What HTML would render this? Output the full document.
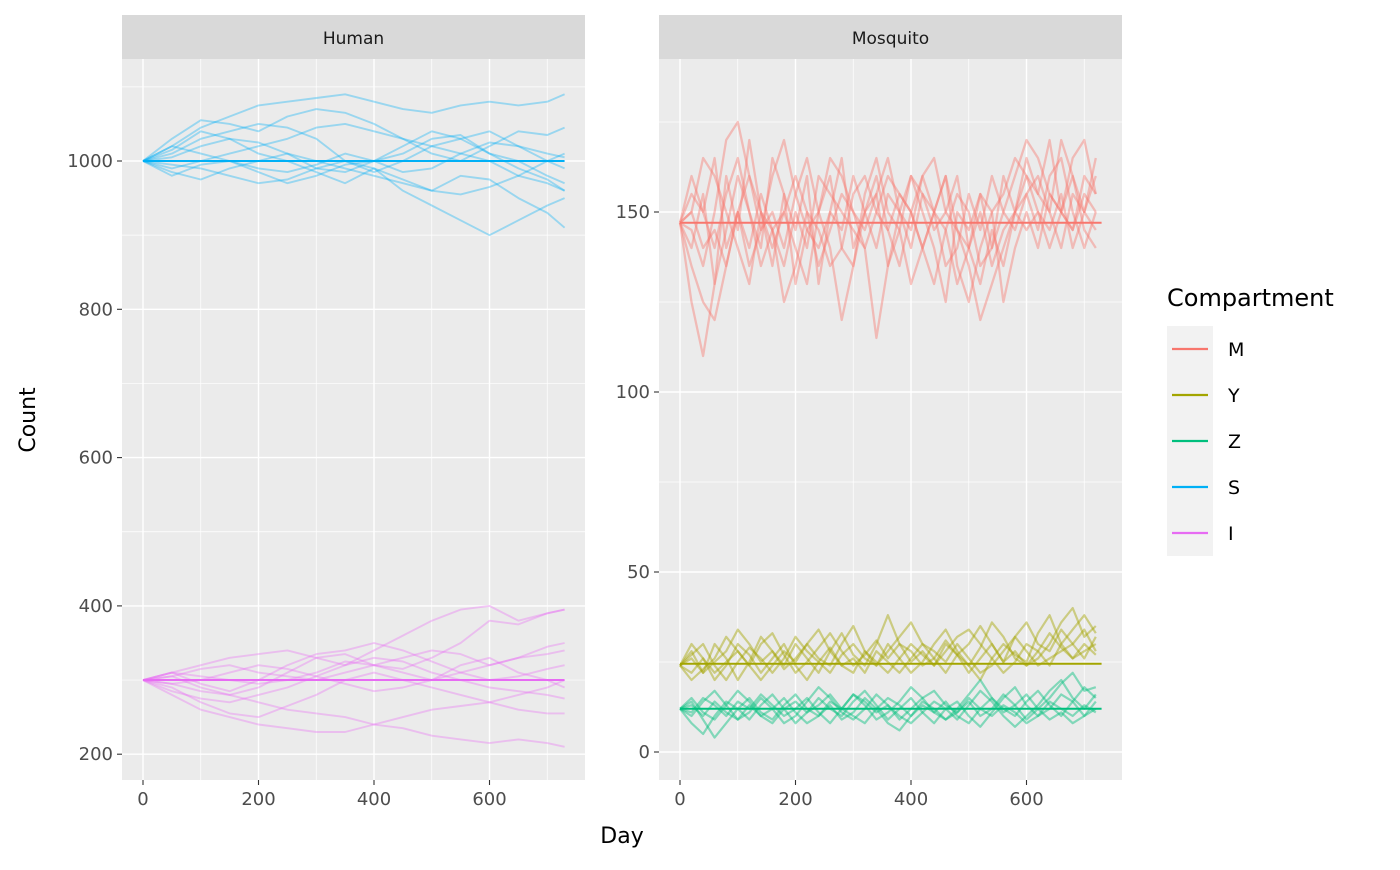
<!DOCTYPE html>
<html><head><meta charset="utf-8"><style>
body{margin:0;background:#fff;}
svg text{font-family:"DejaVu Sans","Liberation Sans",sans-serif;}
</style></head><body>
<svg id="chart" width="1400" height="865" xmlns="http://www.w3.org/2000/svg"></svg>
<script>
// ---- data ----
const humanDays=[0,50,100,150,200,250,300,350,400,450,500,550,600,650,700,730];
const sTraj=[
[1000,1020,1045,1060,1075,1080,1085,1090,1080,1070,1065,1075,1080,1075,1080,1090],
[1000,1030,1055,1050,1040,1060,1070,1065,1050,1030,1010,1000,1020,1040,1035,1045],
[1000,1015,1040,1030,1010,1000,985,970,990,975,960,955,965,980,1000,1010],
[1000,985,975,990,1000,1010,1000,990,980,970,960,980,975,950,930,910],
[1000,995,990,980,970,975,990,1000,990,960,940,920,900,920,940,950],
[1000,1010,1030,1040,1050,1045,1030,1000,985,1000,1020,1010,1000,980,970,960],
[1000,990,1000,1010,1020,1030,1045,1050,1040,1030,1020,1030,1040,1020,1000,990],
[1000,1020,1010,1000,990,985,995,1010,1000,985,990,1010,1025,1020,1010,1005],
[1000,1005,1020,1030,1025,1010,990,985,1000,1020,1040,1030,1010,990,975,960],
[1000,980,995,1000,985,970,980,995,1000,1010,1030,1035,1010,1000,980,970]];
const iTraj=[
[300,310,320,330,335,340,330,320,340,360,380,395,400,380,390,395],
[300,295,285,280,270,260,255,250,240,235,225,220,215,220,215,210],
[300,310,305,300,295,300,310,325,320,315,330,350,380,375,390,395],
[300,290,270,255,250,265,280,300,310,300,290,280,270,260,255,255],
[300,305,315,320,310,305,300,310,320,330,340,335,320,330,345,350],
[300,280,260,250,240,235,230,230,240,250,260,265,270,280,290,300],
[300,305,290,280,290,310,330,335,320,310,300,310,320,330,335,340],
[300,295,300,310,320,315,305,295,285,290,300,320,330,310,300,290],
[300,310,295,285,300,320,335,340,350,340,325,310,300,305,315,320],
[300,285,275,270,280,290,305,320,330,325,310,300,290,285,280,275]];
const humanMeans=[1000,300];
const mosqDays=[0,20,40,60,80,100,120,140,160,180,200,220,240,260,280,300,320,340,360,380,400,420,440,460,480,500,520,540,560,580,600,620,640,660,680,700,720];
const mTraj=[
[147,140,155,130,160,145,170,150,135,155,145,160,130,150,165,140,150,155,135,145,160,150,140,125,150,145,155,140,160,150,165,155,170,150,145,160,155],
[147,125,110,130,145,160,150,140,165,155,130,145,150,160,140,135,155,165,150,145,130,140,150,160,135,125,140,150,155,165,160,150,145,155,140,150,145],
[147,155,150,165,140,150,135,145,160,170,155,145,140,150,145,160,150,140,155,150,145,160,150,135,140,155,145,160,150,145,155,160,150,140,155,150,160],
[147,135,125,120,135,150,160,145,150,140,155,165,150,140,120,135,150,160,145,155,150,140,130,145,155,150,135,140,150,160,170,165,155,150,160,145,140],
[147,150,165,160,150,140,130,150,145,135,150,140,160,155,150,145,140,115,135,150,160,155,145,150,160,140,130,145,135,150,155,145,160,165,150,140,150],
[147,145,135,150,170,175,160,150,140,150,160,150,135,145,155,150,140,150,160,155,150,140,150,145,130,140,150,135,145,150,160,155,150,170,160,150,165],
[147,150,140,145,135,150,140,155,145,125,135,150,145,135,140,155,160,150,145,135,150,160,165,150,145,135,120,130,140,150,145,150,140,150,165,170,155],
[147,160,150,140,155,165,150,135,145,150,140,130,150,165,160,150,145,155,165,150,140,155,150,160,145,140,155,150,125,140,150,140,155,150,145,155,150]];
const yTraj=[
[24,28,22,30,26,20,25,32,28,24,30,26,22,28,33,27,24,30,38,30,25,28,24,30,27,22,26,30,25,32,36,30,28,34,30,26,32],
[24,22,26,20,24,30,27,22,26,30,24,20,25,29,24,22,28,24,30,26,22,25,30,34,28,24,20,26,30,27,25,33,38,30,26,28,30],
[24,27,30,24,20,25,29,26,22,26,32,28,25,22,27,30,26,24,28,32,36,30,26,22,27,30,35,30,25,28,24,26,30,36,40,32,35],
[24,20,23,26,32,28,24,20,24,28,25,30,34,28,24,26,22,28,25,22,26,30,28,25,30,26,22,24,28,32,28,24,26,28,30,34,28],
[24,26,22,25,28,34,30,25,28,23,26,30,26,24,30,35,28,25,22,26,30,27,24,28,32,34,30,26,22,25,30,28,24,30,34,38,33],
[24,30,26,22,25,28,24,30,33,27,22,25,29,33,28,24,27,31,26,30,28,24,26,31,27,24,29,36,32,26,24,28,33,29,26,30,27]];
const zTraj=[
[12,8,5,10,14,12,9,13,16,12,8,11,15,12,10,14,17,13,9,12,15,11,8,12,14,10,7,11,15,18,13,10,12,16,14,10,12],
[12,15,11,9,13,17,14,10,12,15,11,8,10,14,12,16,13,9,11,14,18,15,11,9,12,16,20,15,12,10,14,17,13,10,14,18,15],
[12,10,14,17,13,9,11,15,12,8,10,14,18,15,11,9,12,16,13,10,8,11,14,12,9,13,17,14,10,7,10,13,17,20,15,12,16],
[12,14,9,4,8,12,15,11,9,13,16,12,10,13,9,11,15,12,8,6,10,13,11,14,10,8,12,15,11,13,16,12,9,11,8,10,14],
[12,11,15,13,10,14,12,16,13,10,12,15,11,8,12,16,14,11,13,9,12,15,17,13,11,14,10,12,16,13,9,12,15,19,22,17,18],
[12,13,10,14,11,9,13,10,8,12,14,11,13,16,12,10,8,12,15,13,10,14,12,9,11,15,12,10,13,11,8,10,14,12,10,13,11]];
const mosqMeans=[147,24.5,12];
const xTicks=[0,200,400,600];
const humanYTicks=[200,400,600,800,1000];
const mosqYTicks=[0,50,100,150];
const legendLabels=["M","Y","Z","S","I"];
const legendColors=["#F8766D","#A3A500","#00BF7D","#00B0F6","#E76BF3"];

// ---- rendering ----
const svg=document.getElementById('chart');
const NS='http://www.w3.org/2000/svg';
function el(tag,attrs,parent){const e=document.createElementNS(NS,tag);for(const k in attrs)e.setAttribute(k,attrs[k]);(parent||svg).appendChild(e);return e;}
const hx=d=>143+d*(115.5/200);
const hy=v=>161-(v-1000)*(148.3/200);
const mx=d=>680+d*(115.5/200);
const my=v=>752-v*3.6;

function panel(name,x0,x1,title,yfn,yTicks,minorY,xfn){
  const g=el('g',{});
  
  
  const strip=el('rect',{x:x0,y:15,width:x1-x0,height:44,fill:'#d9d9d9'},g);
  
  
  const st=el('text',{x:(x0+x1)/2,y:44,'text-anchor':'middle','font-size':17,fill:'#1a1a1a'},g);
  st.textContent=title;
  
  
  el('rect',{x:x0,y:59,width:x1-x0,height:721,fill:'#ebebeb'},g);
  [100,300,500,700].forEach(d=>el('line',{x1:xfn(d),x2:xfn(d),y1:59,y2:780,stroke:'#fff','stroke-width':0.7},g));
  minorY.forEach(v=>el('line',{x1:x0,x2:x1,y1:yfn(v),y2:yfn(v),stroke:'#fff','stroke-width':0.7},g));
  xTicks.forEach(d=>{
    el('line',{x1:xfn(d),x2:xfn(d),y1:59,y2:780,stroke:'#fff','stroke-width':1.4},g);
    el('line',{x1:xfn(d),x2:xfn(d),y1:780,y2:785,stroke:'#333','stroke-width':1.1},g);
    const t=el('text',{x:xfn(d),y:805,'text-anchor':'middle','font-size':18,fill:'#4d4d4d'},g);
    t.textContent=d;
    
    
  });
  yTicks.forEach(v=>{
    el('line',{x1:x0,x2:x1,y1:yfn(v),y2:yfn(v),stroke:'#fff','stroke-width':1.4},g);
    el('line',{x1:x0-5,x2:x0,y1:yfn(v),y2:yfn(v),stroke:'#333','stroke-width':1.1},g);
    const t=el('text',{x:x0-9,y:yfn(v)+6,'text-anchor':'end','font-size':18,fill:'#4d4d4d'},g);
    t.textContent=v;
    
    
  });
  return g;
}
const hp=panel('human',122,585,'Human',hy,humanYTicks,[300,500,700,900,1100],hx);
const mp=panel('mosquito',659,1122,'Mosquito',my,mosqYTicks,[25,75,125,175],mx);

function traj(g,days,vals,xf,yf,color,nm,op,w){
  const d=vals.map((v,i)=>(i?'L':'M')+xf(days[i]).toFixed(1)+','+yf(v).toFixed(1)).join('');
  const p=el('path',{d:d,fill:'none',stroke:color,'stroke-width':w,'stroke-opacity':op,'stroke-linejoin':'round'},g);
  
  
}
function meanLine(g,xf,yf,v,days,color,nm){
  const l=el('line',{x1:xf(days[0]),x2:xf(days[days.length-1]),y1:yf(v),y2:yf(v),stroke:color,'stroke-width':2},g);
  
  
}
sTraj.forEach(t=>traj(hp,humanDays,t,hx,hy,'#00B0F6','s-trajectory',0.35,1.9));
iTraj.forEach(t=>traj(hp,humanDays,t,hx,hy,'#E76BF3','i-trajectory',0.35,1.9));
meanLine(hp,hx,hy,humanMeans[0],humanDays,'#00B0F6','s-mean-line');
meanLine(hp,hx,hy,humanMeans[1],humanDays,'#E76BF3','i-mean-line');
const md=mosqDays.concat([730]);
mTraj.forEach(t=>traj(mp,mosqDays,t,mx,my,'#F8766D','m-trajectory',0.42,2.3));
yTraj.forEach(t=>traj(mp,mosqDays,t,mx,my,'#A3A500','y-trajectory',0.45,2.2));
zTraj.forEach(t=>traj(mp,mosqDays,t,mx,my,'#00BF7D','z-trajectory',0.45,2.2));
meanLine(mp,mx,my,mosqMeans[0],md,'#F8766D','m-mean-line');
meanLine(mp,mx,my,mosqMeans[1],md,'#A3A500','y-mean-line');
meanLine(mp,mx,my,mosqMeans[2],md,'#00BF7D','z-mean-line');

const yt=el('text',{x:35,y:420,'text-anchor':'middle','font-size':22,fill:'#000',transform:'rotate(-90 35 420)'});
yt.textContent='Count';


const xt=el('text',{x:622,y:843,'text-anchor':'middle','font-size':22,fill:'#000'});
xt.textContent='Day';



const lg=el('g',{});


const lt=el('text',{x:1167,y:306,'font-size':24,fill:'#000'},lg);
lt.textContent='Compartment';


legendLabels.forEach((lab,i)=>{
  const y0=326+i*46;
  const e=el('g',{},lg);
  
  
  el('rect',{x:1167,y:y0,width:46,height:46,fill:'#f2f2f2'},e);
  el('line',{x1:1172,x2:1208,y1:y0+23,y2:y0+23,stroke:legendColors[i],'stroke-width':2.2},e);
  const t=el('text',{x:1228,y:y0+30,'font-size':19,fill:'#000'},e);
  t.textContent=lab;
});
</script>
</body></html>
